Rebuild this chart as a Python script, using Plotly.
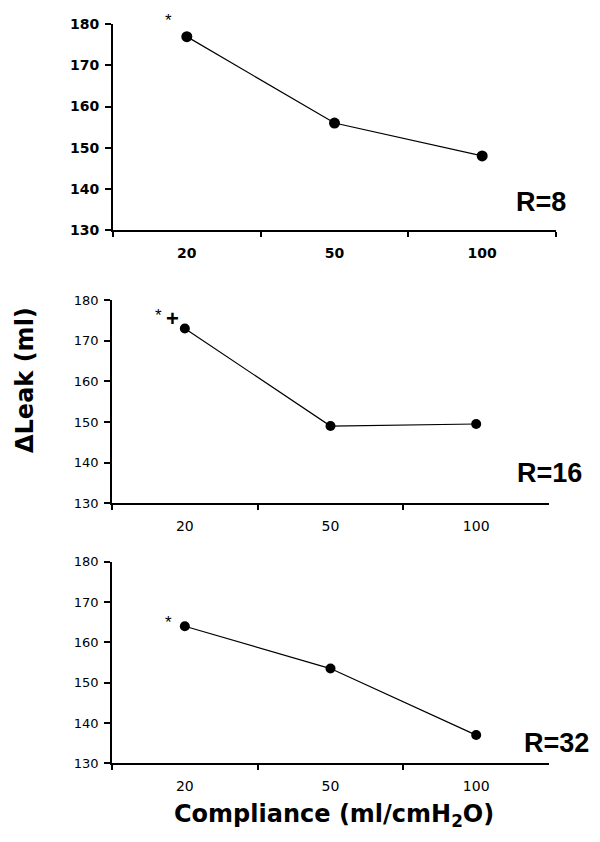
import plotly.graph_objects as go

compliance = ["20", "50", "100"]
leak_r8 = [177, 156, 148]
leak_r16 = [173, 149, 149.5]
leak_r32 = [164, 153.5, 137]
panel_labels = ["R=8", "R=16", "R=32"]
y_ticks = [130, 140, 150, 160, 170, 180]

W, H, OFF = 600.0, 842.0, 8.0   # page body has an 8px margin
def px(p):
    return (p - OFF) / W
def py(p):
    return 1 - (p - OFF) / H

fig = go.Figure()
series = [leak_r8, leak_r16, leak_r32]
marker_sizes = [11, 10, 10]
for i, vals in enumerate(series):
    n = "" if i == 0 else str(i + 1)
    fig.add_trace(go.Scatter(
        x=compliance, y=vals, mode="lines+markers",
        line=dict(color="black", width=1.2),
        marker=dict(color="black", size=marker_sizes[i], symbol="circle"),
        xaxis="x" + n, yaxis="y" + n, showlegend=False, cliponaxis=False))

# pixel domains (top, bottom, left, right)
doms = [(24.3, 230, 113, 556), (300, 503.3, 112, 549), (561.7, 763.3, 112, 549)]
bold = [True, False, False]
layout = dict(width=600, height=842, margin=dict(l=0, r=0, t=0, b=0, autoexpand=False),
              plot_bgcolor="white", paper_bgcolor="white", showlegend=False)
for i, (t, b, l, r) in enumerate(doms):
    n = "" if i == 0 else str(i + 1)
    if bold[i]:
        xfont = dict(family="DejaVu Sans", size=14, color="black", weight="bold")
        yfont = xfont
    else:
        xfont = dict(family="DejaVu Sans", size=14, color="black")
        yfont = dict(family="DejaVu Sans", size=13, color="black")
    lw = 2 if i == 0 else 1.5
    layout["xaxis" + n] = dict(
        domain=[px(l), px(r)], anchor="y" + n, type="category",
        categoryorder="array", categoryarray=compliance, automargin=False,
        range=[-0.5, 2.5], showline=True, linecolor="black", linewidth=lw,
        ticks="outside", ticklen=5, tickwidth=1.5, tickcolor="black",
        tickson="boundaries", showgrid=False, zeroline=False,
        tickfont=xfont, ticklabelstandoff=9, fixedrange=True)
    layout["yaxis" + n] = dict(
        domain=[py(b), py(t)], anchor="x" + n, range=[130, 180], automargin=False,
        tickvals=y_ticks, showline=True, linecolor="black", linewidth=lw,
        ticks="outside", ticklen=6, tickwidth=1.5, tickcolor="black",
        showgrid=False, zeroline=False, tickfont=yfont,
        ticklabelstandoff=3, fixedrange=True)

def note(x, y, text, size, family="Liberation Sans", **kw):
    d = dict(x=px(x), y=py(y), xref="paper", yref="paper", text=text,
             showarrow=False, xanchor="center", yanchor="middle",
             font=dict(family=family, size=size, color="black"))
    d.update(kw)
    return d

ann = []
# significance markers
ann.append(note(168, 20.5, "*", 17))
ann.append(note(158, 315, "*", 17))
ann.append(note(172, 318, "<b>+</b>", 22))
ann.append(note(168, 622, "*", 17))
# R labels
for (x, y), txt in zip([(541, 202), (549, 473), (556, 743)], panel_labels):
    ann.append(note(x, y, "<b>" + txt + "</b>", 27))
# axis titles
ann.append(note(25, 380, "<b>ΔLeak (ml)</b>", 24, family="DejaVu Sans", textangle=-90))
ann.append(note(334, 815, "<b>Compliance (ml/cmH<sub>2</sub>O)</b>", 24, family="DejaVu Sans"))
layout["annotations"] = ann

fig.update_layout(**layout)
fig.write_html("out.html")
